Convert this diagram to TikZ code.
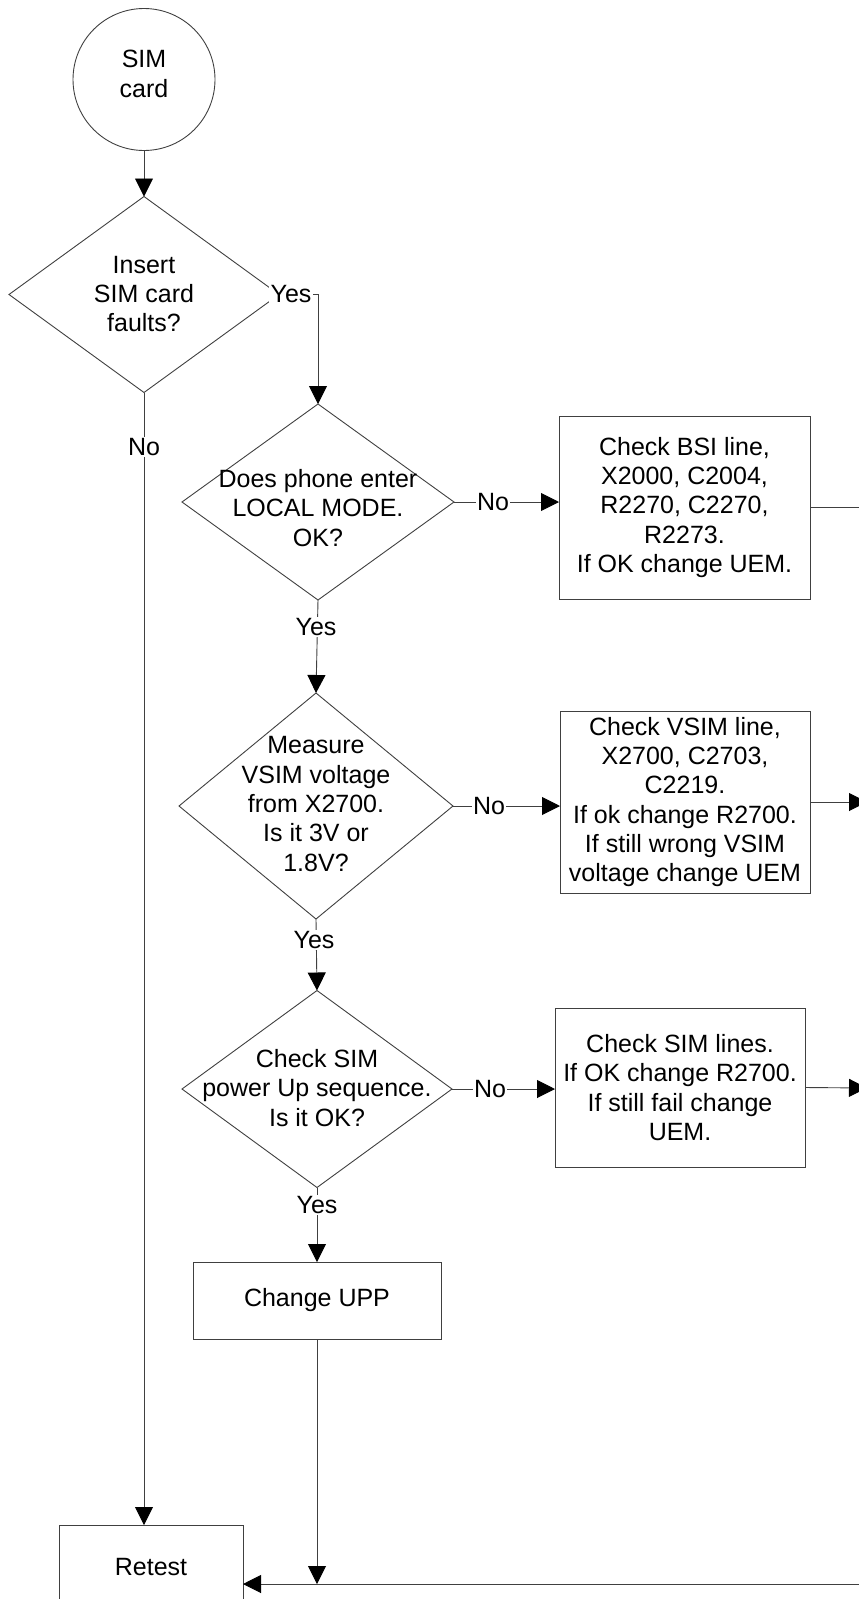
\documentclass[tikz,border=0pt]{standalone}
\usepackage{fontspec}
\setmainfont{Liberation Sans}
\usetikzlibrary{arrows.meta,shapes.geometric}
\begin{document}
\begin{tikzpicture}[x=1pt,y=-1pt,
  every node/.style={font=\fontsize{25}{29.3}\selectfont, align=center, inner sep=0pt, outer sep=0pt},
  shapeline/.style={draw=black!75, line width=0.9pt},
  dia/.style={shapeline, diamond, fill=white},
  boxst/.style={shapeline, rectangle, fill=white},
  conn/.style={draw=black!75, line width=0.9pt},
  arr/.style={conn, -{Triangle[length=18pt,width=18pt,color=black]}},
  lbl/.style={fill=white, inner sep=1.5pt}
]
\useasboundingbox (0,0) rectangle (859,1599);
\clip (0,0) rectangle (859,1599);

% start
\node[shapeline, circle, minimum size=142pt] (start) at (144,79.5) {};
\node (starttxt) at (144,74) {SIM\\card};

% decisions
\node[dia, minimum width=270pt, minimum height=196pt] (d1) at (144,294.5) {};
\node (d1t) at (144,294) {Insert\\SIM card\\faults?};

\node[dia, minimum width=272pt, minimum height=196pt] (d2) at (318,502) {};
\node (d2t) at (318,508) {Does phone enter\\LOCAL MODE.\\OK?};

\node[dia, minimum width=274pt, minimum height=226pt] (d3) at (316,806) {};
\node (d3t) at (316,804) {Measure\\VSIM voltage\\from X2700.\\Is it 3V or\\1.8V?};

\node[dia, minimum width=270pt, minimum height=197pt] (d4) at (317,1089) {};
\node (d4t) at (317,1088) {Check SIM\\power Up sequence.\\Is it OK?};

% boxes
\node[boxst, minimum width=251pt, minimum height=183pt] (b1) at (684.5,507.5)
  {Check BSI line,\\X2000, C2004,\\R2270, C2270,\\R2273.\\If OK change UEM.};
\node[boxst, minimum width=250pt, minimum height=182pt] (b2) at (685,802)
  {Check VSIM line,\\X2700, C2703,\\C2219.\\If ok change R2700.\\If still wrong VSIM\\voltage change UEM};
\node[boxst, minimum width=250pt, minimum height=159pt] (b3) at (680,1087.5)
  {Check SIM lines.\\If OK change R2700.\\If still fail change\\UEM.};
\node[boxst, minimum width=248pt, minimum height=77pt] (upp) at (317,1300.5) {Change UPP};
\node[boxst, minimum width=184pt, minimum height=84pt] (retest) at (151,1567) {Retest};

% free ends
\coordinate (o1) at (880,507.5);
\coordinate (o2) at (867,802);
\coordinate (o3) at (867,1088);
\coordinate (join) at (317,1584);
\coordinate (o4) at (880,1584);

% connectors
\draw[arr] (start.south) -- (d1.north);
\draw[arr] (d1.east) -- (318,294.5) -- (d2.north);
\node[lbl] (y1) at (291,294) {Yes};

\draw[arr] (d1.south) -- (d1.south |- retest.north);
\node[lbl] (n1) at (144,447) {No};

\draw[arr] (d2.east) -- (d2.east -| b1.west);
\node[lbl] (n2) at (493,502) {No};
\draw[conn] (b1.east) -- (o1);

\draw[arr] (d2.south) -- (d3.north);
\node[lbl] (y2) at (316,627) {Yes};

\draw[arr] (d3.east) -- (d3.east -| b2.west);
\node[lbl] (n3) at (489,806) {No};
\draw[arr] (b2.east) -- (o2);

\draw[arr] (d3.south) -- (d4.north);
\node[lbl] (y3) at (314,940) {Yes};

\draw[arr] (d4.east) -- (d4.east -| b3.west);
\node[lbl] (n4) at (490,1089) {No};
\draw[arr] (b3.east) -- (o3);

\draw[arr] (d4.south) -- (upp.north);
\node[lbl] (y4) at (317,1205) {Yes};

\draw[arr] (upp.south) -- (join);
\draw[arr] (o4) -- (o4 -| retest.east);
\end{tikzpicture}
\end{document}
